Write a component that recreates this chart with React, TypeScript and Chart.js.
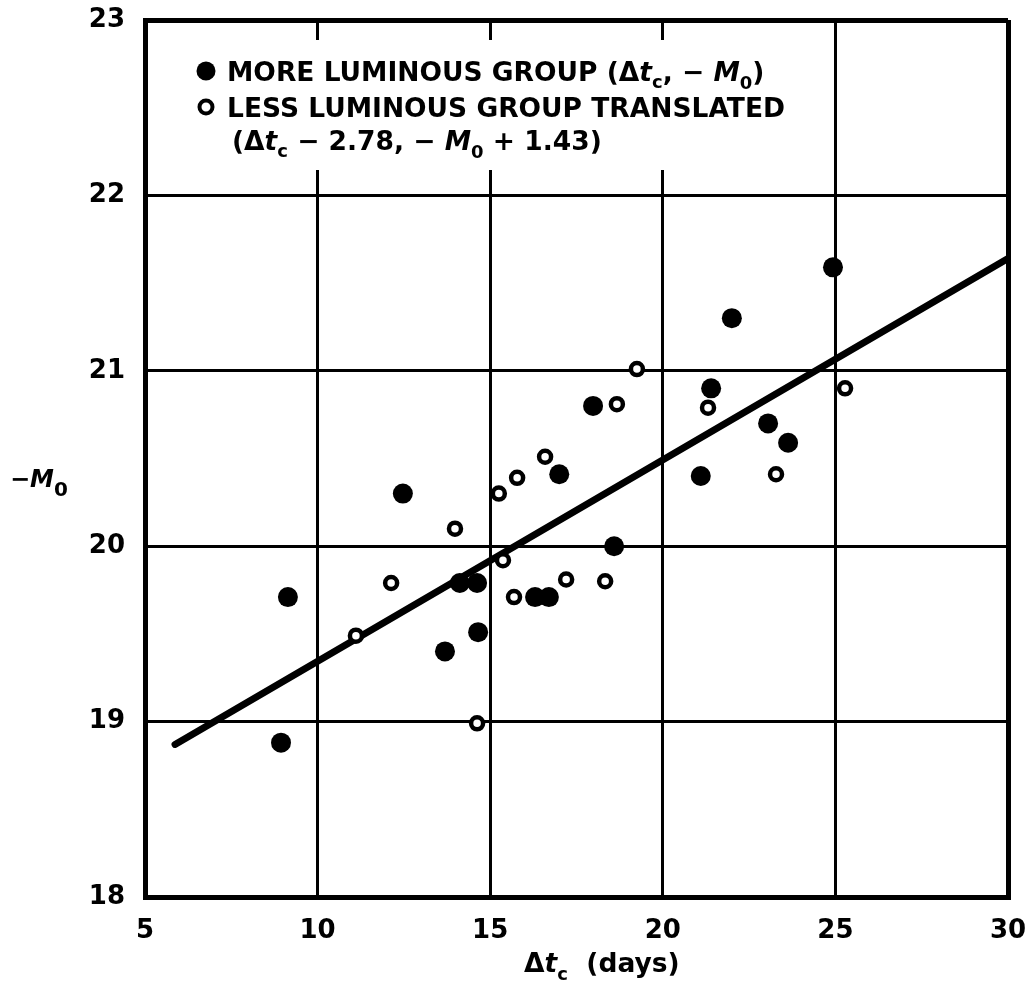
import React, { useEffect, useRef } from "react";
import { Chart, registerables } from "chart.js";

Chart.register(...registerables);

// ---- data ----
const xTicks = [5, 10, 15, 20, 25, 30];
const yTicks = [18, 19, 20, 21, 22, 23];

// More luminous group (filled circles)
const moreX = [9.14, 8.94, 12.47, 13.69, 14.12, 14.62, 14.65, 16.3, 16.7, 17.0, 17.98, 18.59, 21.1, 21.4, 22.0, 23.05, 23.63, 24.93];
const moreY = [19.71, 18.88, 20.3, 19.4, 19.79, 19.79, 19.51, 19.71, 19.71, 20.41, 20.8, 20.0, 20.4, 20.9, 21.3, 20.7, 20.59, 21.59];

// Less luminous group translated (open circles)
const lessX = [11.11, 12.13, 13.98, 14.62, 15.25, 15.78, 15.37, 15.69, 16.59, 17.2, 18.33, 18.67, 19.25, 21.31, 23.28, 25.28];
const lessY = [19.49, 19.79, 20.1, 18.99, 20.3, 20.39, 19.92, 19.71, 20.51, 19.81, 19.8, 20.81, 21.01, 20.79, 20.41, 20.9];

// Fitted line end points
const fitX = [5.87, 30];
const fitY = [18.87, 21.64];

const FONT = "'DejaVu Sans', sans-serif";

type Run = { t: string; f: string; dy?: number };

function drawRuns(ctx: CanvasRenderingContext2D, x: number, y: number, runs: Run[]) {
  for (const r of runs) {
    ctx.font = r.f;
    ctx.fillText(r.t, x, y + (r.dy || 0));
    x += ctx.measureText(r.t).width;
  }
  return x;
}

const B = `bold 26.5px ${FONT}`;
const BI = `italic bold 26.5px ${FONT}`;
const S = `bold 18px ${FONT}`;

const legendLine1: Run[] = [
  { t: "MORE LUMINOUS GROUP (", f: B },
  { t: "Δ", f: B },
  { t: "t", f: BI },
  { t: "c", f: S, dy: 7 },
  { t: ", − ", f: B },
  { t: "M", f: BI },
  { t: "0", f: S, dy: 8 },
  { t: ")", f: B },
];
const legendLine2: Run[] = [{ t: "LESS LUMINOUS GROUP TRANSLATED", f: B }];
const legendLine3: Run[] = [
  { t: "(", f: B },
  { t: "Δ", f: B },
  { t: "t", f: BI },
  { t: "c", f: S, dy: 7 },
  { t: " − 2.78, − ", f: B },
  { t: "M", f: BI },
  { t: "0", f: S, dy: 8 },
  { t: " + 1.43)", f: B },
];

const xTitle: Run[] = [
  { t: "Δ", f: B },
  { t: "t", f: BI },
  { t: "c", f: S, dy: 8 },
  { t: "  (days)", f: B },
];
const yTitle: Run[] = [
  { t: "−", f: `bold 24px ${FONT}` },
  { t: "M", f: `italic bold 24px ${FONT}` },
  { t: "0", f: `bold 20px ${FONT}`, dy: 9 },
];

const annotations = {
  id: "annotations",
  beforeDatasetsDraw(chart: any) {
    const ctx = chart.ctx as CanvasRenderingContext2D;
    ctx.save();
    ctx.fillStyle = "#ffffff";
    ctx.fillRect(165, 40, 635, 130);
    ctx.restore();
  },
  afterDraw(chart: any) {
    const ctx = chart.ctx as CanvasRenderingContext2D;
    ctx.save();
    ctx.fillStyle = "#000";
    ctx.strokeStyle = "#000";
    ctx.textBaseline = "alphabetic";
    ctx.textAlign = "left";
    // legend markers
    ctx.beginPath();
    ctx.arc(206, 71, 9.5, 0, Math.PI * 2);
    ctx.fill();
    ctx.beginPath();
    ctx.lineWidth = 4;
    ctx.arc(206, 107, 6.5, 0, Math.PI * 2);
    ctx.stroke();
    // legend text
    drawRuns(ctx, 227, 80.5, legendLine1);
    drawRuns(ctx, 227, 116.5, legendLine2);
    drawRuns(ctx, 232, 149.5, legendLine3);
    // axis titles
    drawRuns(ctx, 524, 972, xTitle);
    drawRuns(ctx, 10, 487, yTitle);
    ctx.restore();
  },
};

export default function App() {
  const ref = useRef<HTMLCanvasElement | null>(null);
  useEffect(() => {
    if (!ref.current) return;
    const edgeWidth = (lo: number, hi: number) => (c: any) =>
      c.tick && (c.tick.value === lo || c.tick.value === hi) ? 5 : 3;
    const zeroPad = (s: any) => {
      s.paddingTop = 0;
      s.paddingBottom = 0;
      s.paddingLeft = 0;
      s.paddingRight = 0;
    };
    const chart = new Chart(ref.current, {
      type: "scatter",
      data: {
        datasets: [
          {
            type: "line",
            label: "fit",
            data: fitX.map((x, i) => ({ x, y: fitY[i] })),
            borderColor: "#000",
            borderWidth: 7,
            borderCapStyle: "round",
            pointRadius: 0,
            fill: false,
            order: 3,
          } as any,
          {
            label: "more",
            data: moreX.map((x, i) => ({ x, y: moreY[i] })),
            backgroundColor: "#000",
            borderColor: "#000",
            borderWidth: 0,
            pointRadius: 10,
            order: 2,
          },
          {
            label: "less",
            data: lessX.map((x, i) => ({ x, y: lessY[i] })),
            backgroundColor: "#fff",
            borderColor: "#000",
            borderWidth: 4.5,
            pointRadius: 6,
            order: 1,
          },
        ],
      },
      options: {
        animation: false,
        responsive: false,
        devicePixelRatio: 1,
        layout: { padding: { left: 0, top: 20, right: 26, bottom: 0 } },
        plugins: { legend: { display: false }, tooltip: { enabled: false } },
        scales: {
          x: {
            type: "linear",
            min: xTicks[0],
            max: xTicks[xTicks.length - 1],
            afterBuildTicks: (s: any) => {
              s.ticks = xTicks.map((v) => ({ value: v }));
            },
            afterFit: (s: any) => {
              s.height = 105;
              zeroPad(s);
            },
            grid: { color: "#000", lineWidth: edgeWidth(5, 30) as any, drawTicks: false },
            border: { display: true, color: "#000", width: 5 },
            ticks: {
              color: "#000",
              padding: 19,
              font: { family: FONT, weight: "bold", size: 26 },
            },
          },
          y: {
            type: "linear",
            min: yTicks[0],
            max: yTicks[yTicks.length - 1],
            afterBuildTicks: (s: any) => {
              s.ticks = yTicks.map((v) => ({ value: v }));
            },
            afterFit: (s: any) => {
              s.width = 145;
              zeroPad(s);
            },
            grid: { color: "#000", lineWidth: edgeWidth(18, 23) as any, drawTicks: false },
            border: { display: true, color: "#000", width: 5 },
            ticks: {
              color: "#000",
              padding: 20,
              font: { family: FONT, weight: "bold", size: 26 },
            },
          },
        },
      },
      plugins: [annotations],
    });
    return () => chart.destroy();
  }, []);
  return (
    <div style={{ position: "absolute", left: 0, top: 0, width: 1034, height: 1002, background: "#fff" }}>
      <canvas ref={ref} width={1034} height={1002} style={{ display: "block" }} />
    </div>
  );
}
